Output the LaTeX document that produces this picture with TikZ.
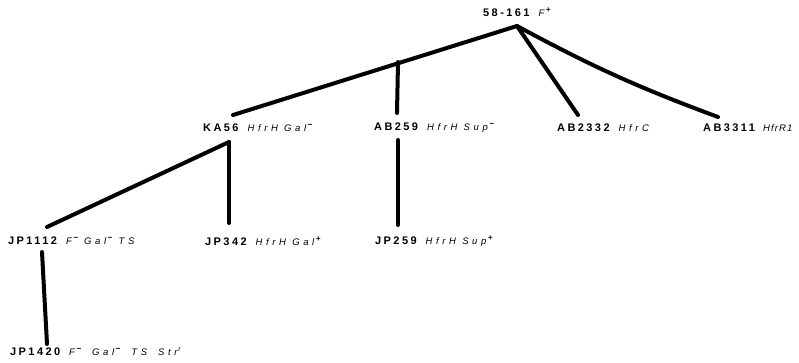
\documentclass[tikz,border=0pt]{standalone}
\usepackage{fontspec}
\setmainfont{Liberation Sans}
\newfontfamily\strainfont[LetterSpace=22]{Liberation Sans}
\newfontfamily\genofont[LetterSpace=38]{Liberation Sans}
\newfontfamily\genotight[LetterSpace=12]{Liberation Sans}
\newcommand\genosize{\itshape\fontsize{9.5}{11}\selectfont}
\newcommand\strainlab[2]{{\strainfont\bfseries #1}\hspace{9pt}{\genofont\genosize #2}}
\newcommand\strainlabtight[2]{{\strainfont\bfseries #1}\hspace{8pt}{\genotight\genosize #2}}
\newcommand\splus{\kern1.5pt\raisebox{3.5pt}{\fontsize{8}{8}\selectfont\bfseries +}}
\newcommand\sminus{\kern1.5pt\raisebox{4pt}{\fontsize{8}{8}\selectfont\bfseries \textminus}}
\newcommand\ssupr{\kern1pt\raisebox{4pt}{\fontsize{7}{7}\selectfont r}}
\newcommand\wgap{\hspace{11pt}}
\tikzset{
  lab/.style={anchor=west, inner sep=0pt, font=\fontsize{11}{13}\selectfont},
  branch/.style={line width=4pt, line cap=round, line join=round},
}
\begin{document}
\begin{tikzpicture}[x=1pt, y=-1pt]
\useasboundingbox (0,0) rectangle (799,362);
% strain labels
\node[lab] (s58)   at (483,12)  {\strainlab{58-161}{F\splus}};
\node[lab] (ka56)  at (203,128) {\strainlab{KA56}{HfrH Gal\sminus}};
\node[lab] (ab259) at (374,128) {\strainlab{AB259}{HfrH Sup\sminus}};
\node[lab] (ab2332) at (557,128) {\strainlab{AB2332}{HfrC}};
\node[lab] (ab3311) at (703,128) {\strainlabtight{AB3311}{HfrR1}};
\node[lab] (jp1112) at (8,241)  {\strainlab{JP1112}{F\sminus\ Gal\sminus\ TS}};
\node[lab] (jp342)  at (205,241) {\strainlab{JP342}{HfrH Gal\splus}};
\node[lab] (jp259)  at (375,241) {\strainlab{JP259}{HfrH Sup\splus}};
\node[lab] (jp1420) at (10,352) {\strainlab{JP1420}{F\sminus\wgap Gal\sminus\wgap TS\wgap Str\ssupr}};
% branch points
\coordinate (top) at (517,26);
\coordinate (kaIn) at (233,115);
\coordinate (abJ) at (398,62);
\coordinate (abIn) at (397,113);
\coordinate (c2332In) at (578,115);
\coordinate (c3311In) at (718,117);
\coordinate (kaOut) at (229,142);
\coordinate (jp1112In) at (47,227);
\coordinate (jp342In) at (229,223);
\coordinate (abOut) at (398,140);
\coordinate (jp259In) at (398,225);
\coordinate (jp1112Out) at (42,252);
\coordinate (jp1420In) at (47,344);
% lineage
\draw[branch] (top) -- (kaIn);
\draw[branch] (abJ) -- (abIn);
\draw[branch] (top) -- (c2332In);
\draw[branch] (top) to[bend right=4] (c3311In);
\draw[branch] (kaOut) -- (jp1112In);
\draw[branch] (kaOut) -- (jp342In);
\draw[branch] (abOut) -- (jp259In);
\draw[branch] (jp1112Out) -- (jp1420In);
\end{tikzpicture}
\end{document}
